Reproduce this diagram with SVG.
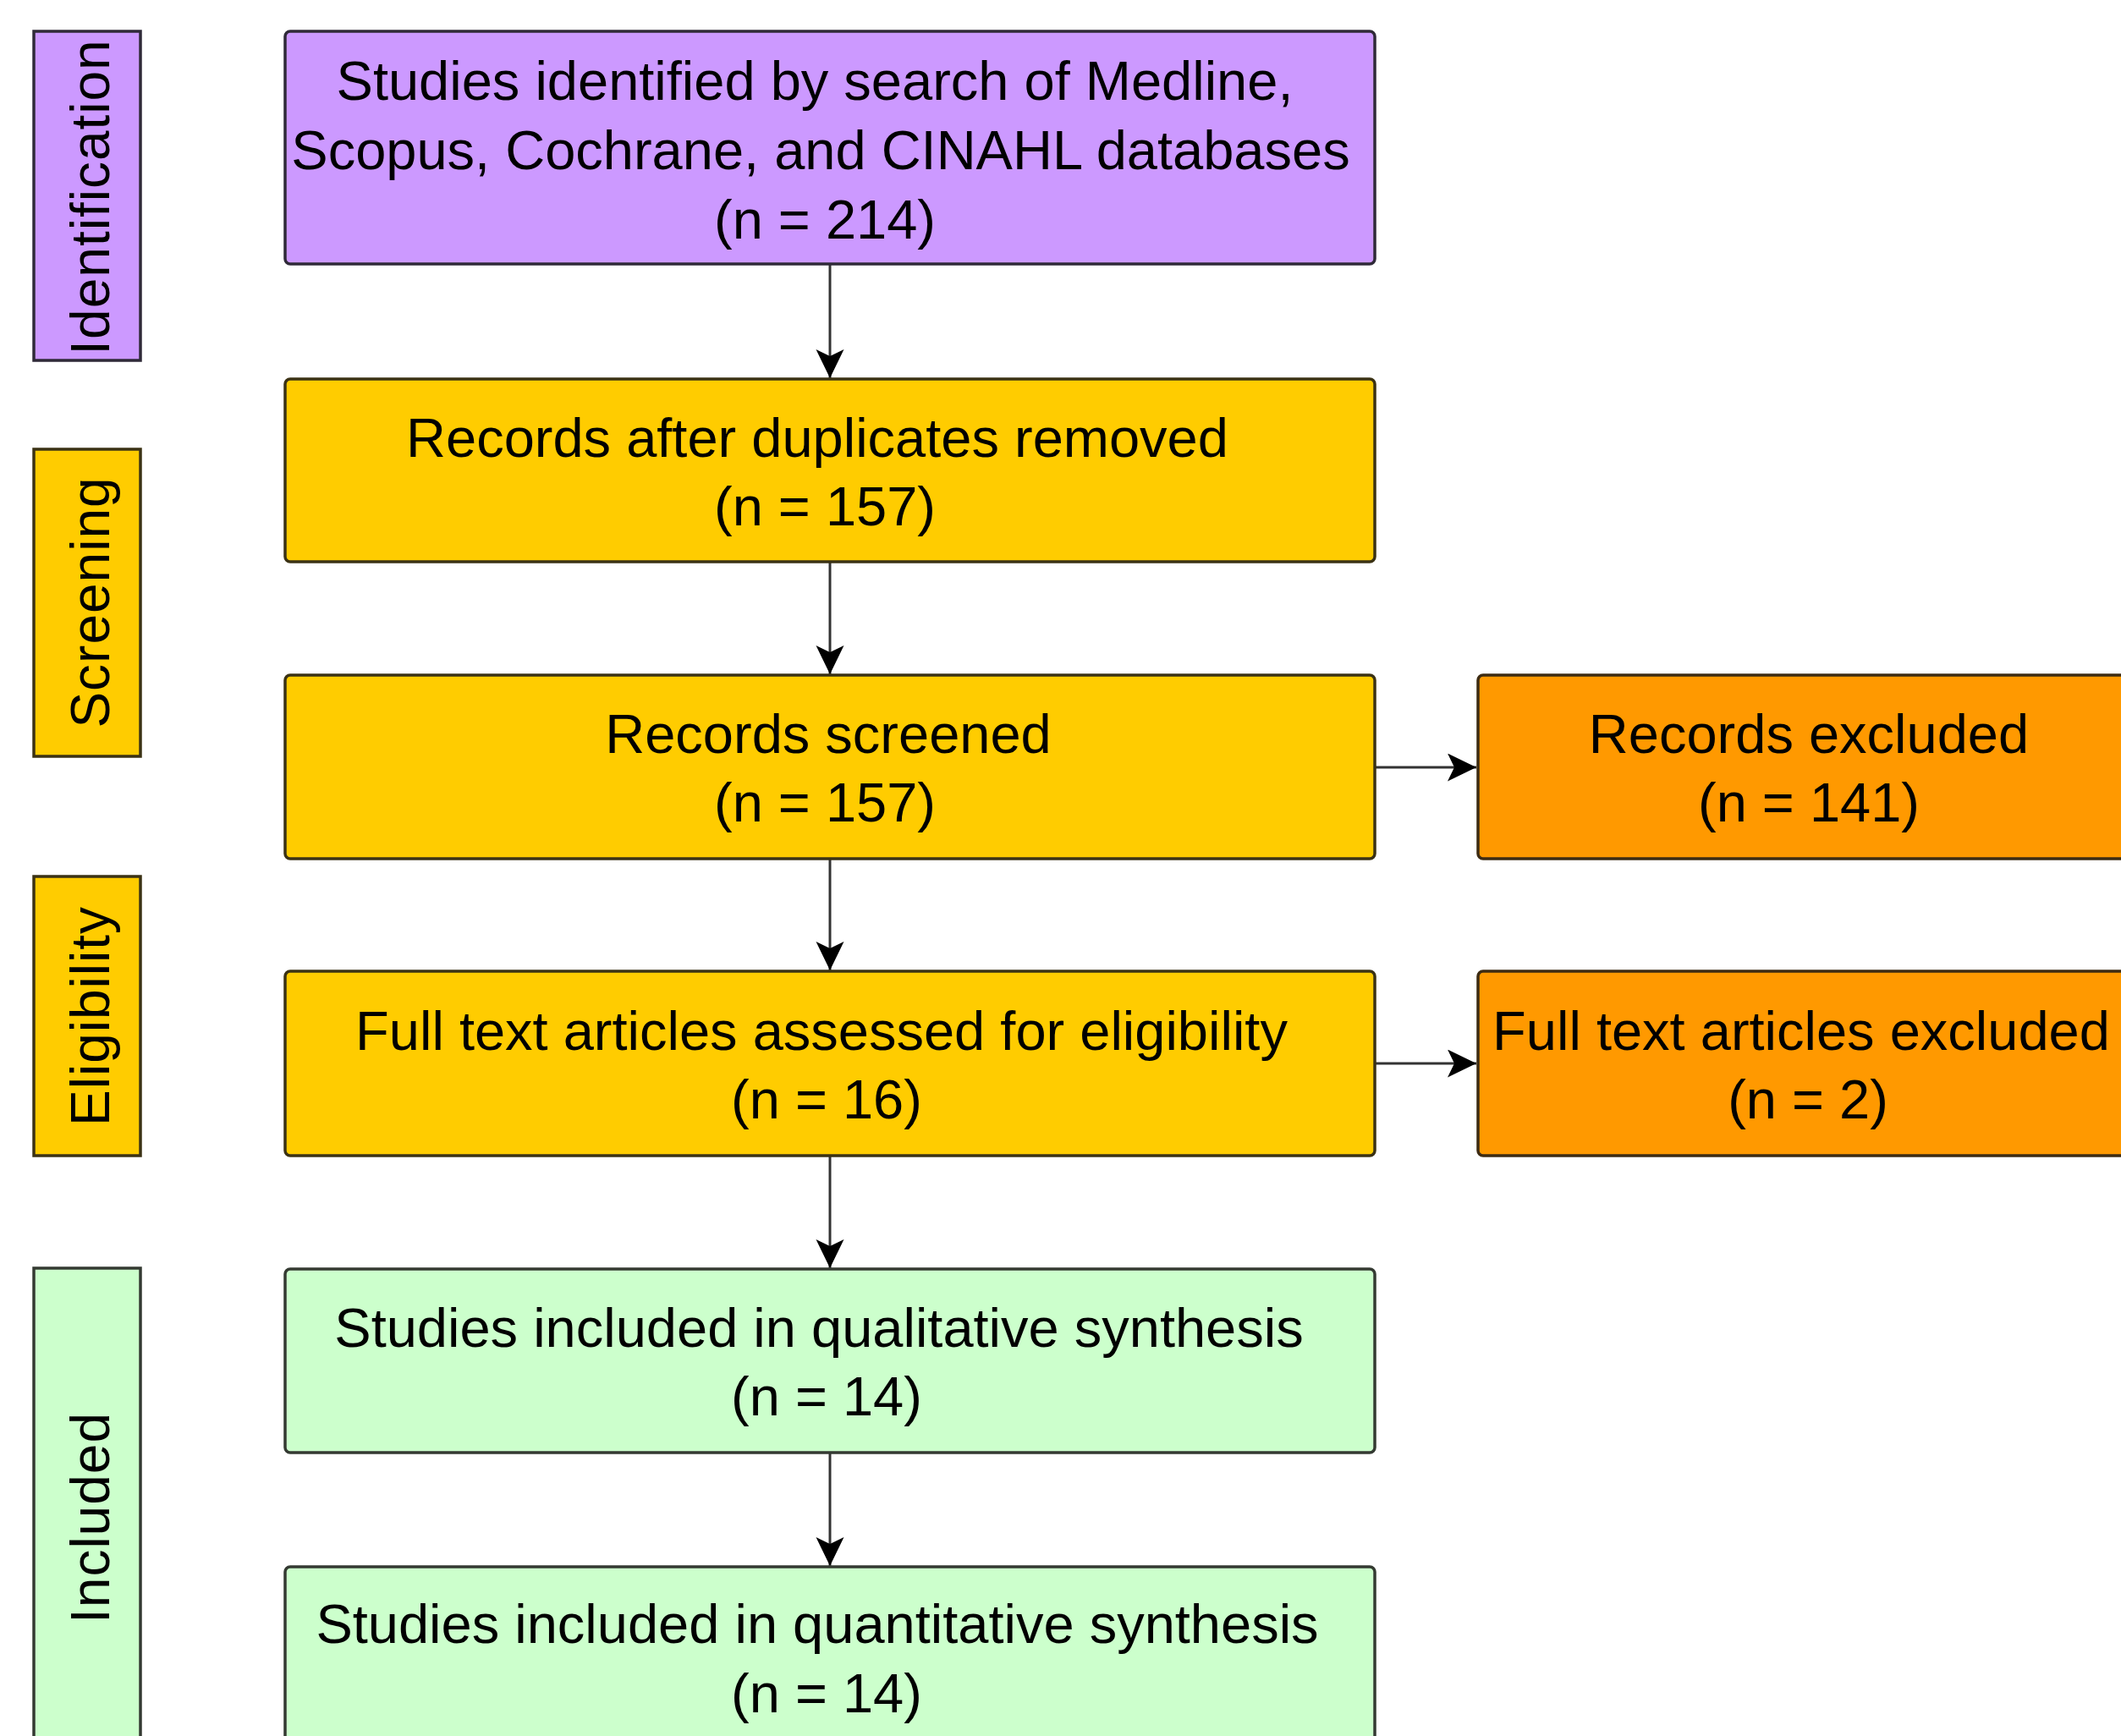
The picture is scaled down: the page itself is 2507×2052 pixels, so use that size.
<svg xmlns="http://www.w3.org/2000/svg" width="2507" height="2052" viewBox="0 0 2507 2052">
  <style>
    .t { font-family: "Liberation Sans", Arial, sans-serif; font-size: 65px; fill: #000; text-anchor: middle; }
    .lab { font-family: "Liberation Sans", Arial, sans-serif; font-size: 64px; fill: #000; text-anchor: middle; letter-spacing: 1px; }
    .box { stroke-width: 3.5; }
    .purple { fill: #CC99FF; stroke: #2f2a38; }
    .yellow { fill: #FFCC00; stroke: #3b3214; }
    .orange { fill: #FF9900; stroke: #3d2b12; }
    .green { fill: #CCFFCC; stroke: #343a32; }
    .conn { stroke: #333; stroke-width: 3; fill: none; marker-end: url(#arr); }
  </style>
  <defs>
    <marker id="arr" markerUnits="userSpaceOnUse" markerWidth="40" markerHeight="40" refX="34" refY="16.5" orient="auto">
      <path d="M0,0 L34,16.5 L0,33 L8,16.5 Z" fill="#000"/>
    </marker>
  </defs>
  <rect width="2507" height="2052" fill="#fff"/>

  <!-- Phase labels -->
  <g id="label-identification">
    <rect class="box purple" x="40" y="37" width="126" height="389" stroke-width="4"/>
    <text class="lab" transform="translate(129,233) rotate(-90)">Identification</text>
  </g>
  <g id="label-screening">
    <rect class="box yellow" x="40" y="531" width="126" height="363" stroke-width="4"/>
    <text class="lab" transform="translate(129,712) rotate(-90)">Screening</text>
  </g>
  <g id="label-eligibility">
    <rect class="box yellow" x="40" y="1036" width="126" height="330" stroke-width="4"/>
    <text class="lab" transform="translate(129,1201) rotate(-90)">Eligibility</text>
  </g>
  <g id="label-included">
    <rect class="box green" x="40" y="1499" width="126" height="590" stroke-width="4"/>
    <text class="lab" transform="translate(129,1794) rotate(-90)">Included</text>
  </g>

  <!-- Connectors -->
  <g id="connectors">
    <line class="conn" x1="981" y1="312" x2="981" y2="447"/>
    <line class="conn" x1="981" y1="664" x2="981" y2="797"/>
    <line class="conn" x1="981" y1="1015" x2="981" y2="1147"/>
    <line class="conn" x1="981" y1="1366" x2="981" y2="1499"/>
    <line class="conn" x1="981" y1="1717" x2="981" y2="1851"/>
    <line class="conn" x1="1625" y1="907" x2="1745" y2="907"/>
    <line class="conn" x1="1625" y1="1257" x2="1745" y2="1257"/>
  </g>

  <!-- Main nodes -->
  <g id="node-identified">
    <rect class="box purple" x="337" y="37" width="1288" height="275" rx="6"/>
    <text class="t" x="963" y="118">Studies identified by search of Medline,</text>
    <text class="t" x="970" y="200">Scopus, Cochrane, and CINAHL databases</text>
    <text class="t" x="975" y="282">(n = 214)</text>
  </g>
  <g id="node-duplicates">
    <rect class="box yellow" x="337" y="448" width="1288" height="216" rx="6"/>
    <text class="t" x="966" y="540">Records after duplicates removed</text>
    <text class="t" x="975" y="621">(n = 157)</text>
  </g>
  <g id="node-screened">
    <rect class="box yellow" x="337" y="798" width="1288" height="217" rx="6"/>
    <text class="t" x="979" y="890">Records screened</text>
    <text class="t" x="975" y="971">(n = 157)</text>
  </g>
  <g id="node-fulltext">
    <rect class="box yellow" x="337" y="1148" width="1288" height="218" rx="6"/>
    <text class="t" x="971" y="1241">Full text articles assessed for eligibility</text>
    <text class="t" x="977" y="1322">(n = 16)</text>
  </g>
  <g id="node-qualitative">
    <rect class="box green" x="337" y="1500" width="1288" height="217" rx="6"/>
    <text class="t" x="968" y="1592">Studies included in qualitative synthesis</text>
    <text class="t" x="977" y="1673">(n = 14)</text>
  </g>
  <g id="node-quantitative">
    <rect class="box green" x="337" y="1852" width="1288" height="217" rx="6"/>
    <text class="t" x="966" y="1942">Studies included in quantitative synthesis</text>
    <text class="t" x="977" y="2024">(n = 14)</text>
  </g>

  <!-- Excluded nodes -->
  <g id="node-records-excluded">
    <rect class="box orange" x="1747" y="798" width="790" height="217" rx="6"/>
    <text class="t" x="2138" y="890">Records excluded</text>
    <text class="t" x="2138" y="971">(n = 141)</text>
  </g>
  <g id="node-fulltext-excluded">
    <rect class="box orange" x="1747" y="1148" width="790" height="218" rx="6"/>
    <text class="t" x="2129" y="1241">Full text articles excluded</text>
    <text class="t" x="2137" y="1322">(n = 2)</text>
  </g>
</svg>
